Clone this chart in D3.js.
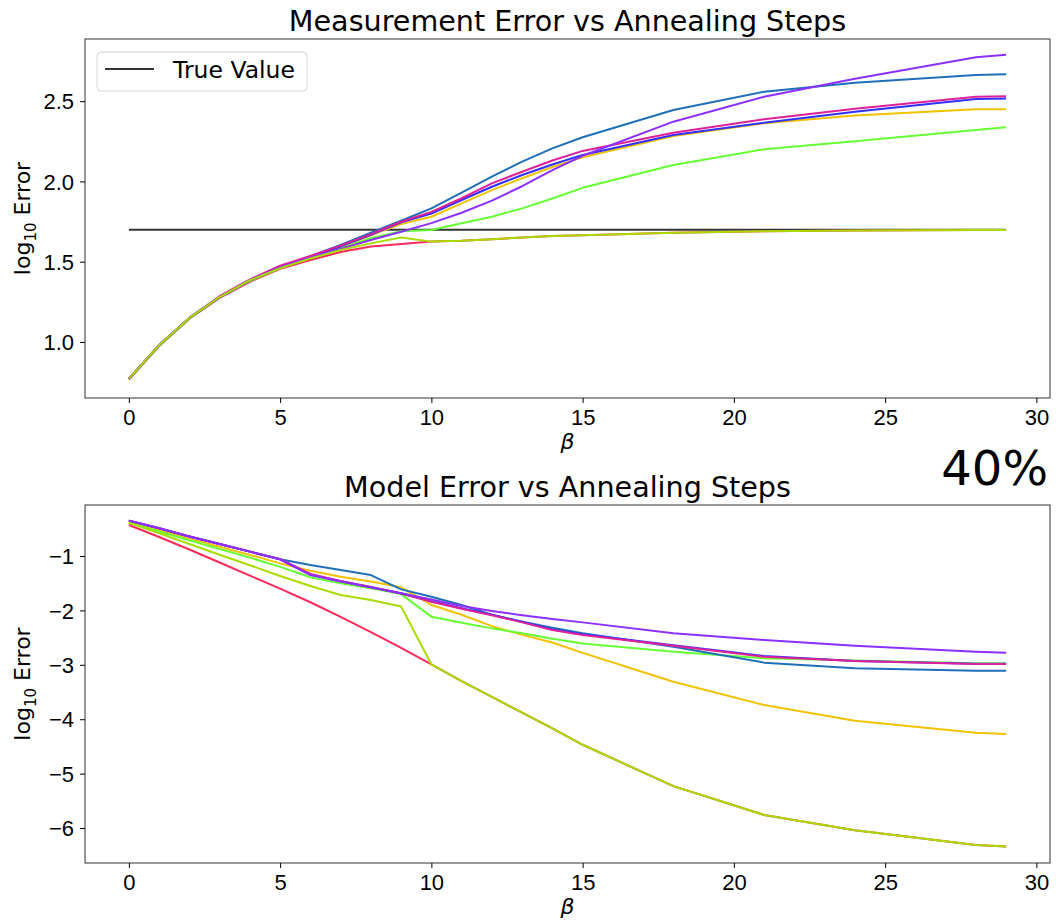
<!DOCTYPE html>
<html>
<head>
<meta charset="utf-8">
<script src="https://cdn.jsdelivr.net/npm/d3@7"></script>
<style>
  body { margin: 0; background: #fff; }
  svg { display: block; font-family: "DejaVu Sans", sans-serif; }
  .tick text { font-size: 22px; fill: #000; }
</style>
</head>
<body>
<svg id="chart" width="1058" height="924"></svg>
<script>
// annealing steps (beta)
const betas = [0,1,2,3,4,5,6,7,8,9,10,11,12,13,14,15,18,21,24,28,29];
const trueValue = 1.699;

// log10 measurement error, one array per run
const measSteel   = [0.77,0.98,1.15,1.28,1.385,1.465,1.535,1.605,1.68,1.755,1.832,1.93,2.03,2.123,2.206,2.275,2.445,2.559,2.615,2.663,2.667];
const measPurple  = [0.77,0.98,1.15,1.28,1.385,1.465,1.525,1.58,1.635,1.687,1.74,1.805,1.88,1.97,2.07,2.16,2.372,2.527,2.64,2.773,2.789];
const measMagenta = [0.77,0.98,1.15,1.285,1.39,1.475,1.535,1.60,1.672,1.749,1.81,1.895,1.988,2.06,2.13,2.19,2.303,2.387,2.453,2.527,2.531];
const measBlue    = [0.77,0.98,1.15,1.28,1.385,1.47,1.53,1.595,1.668,1.745,1.80,1.884,1.967,2.04,2.105,2.165,2.289,2.366,2.434,2.513,2.517];
const measGold    = [0.77,0.98,1.15,1.28,1.385,1.465,1.53,1.59,1.665,1.735,1.78,1.863,1.946,2.02,2.09,2.15,2.283,2.362,2.41,2.449,2.449];
const measGreen   = [0.77,0.975,1.145,1.28,1.38,1.46,1.525,1.583,1.646,1.69,1.697,1.74,1.78,1.832,1.894,1.96,2.102,2.20,2.25,2.32,2.337];
const measLime    = [0.77,0.98,1.15,1.28,1.385,1.46,1.52,1.573,1.614,1.65,1.625,1.63,1.64,1.65,1.66,1.665,1.68,1.69,1.695,1.697,1.697];
const measRed     = [0.766,0.975,1.145,1.275,1.375,1.455,1.51,1.56,1.594,1.61,1.625,1.63,1.64,1.65,1.66,1.665,1.68,1.69,1.695,1.697,1.697];

// log10 model error
const modSteel   = [-0.35,-0.49,-0.64,-0.78,-0.92,-1.06,-1.165,-1.257,-1.35,-1.613,-1.748,-1.90,-2.08,-2.21,-2.32,-2.42,-2.67,-2.96,-3.065,-3.108,-3.11];
const modPurple  = [-0.35,-0.49,-0.64,-0.78,-0.92,-1.06,-1.35,-1.47,-1.576,-1.686,-1.80,-1.92,-2.01,-2.09,-2.16,-2.22,-2.42,-2.545,-2.65,-2.76,-2.78];
const modMagenta = [-0.35,-0.49,-0.64,-0.78,-0.92,-1.06,-1.33,-1.46,-1.57,-1.686,-1.84,-1.97,-2.09,-2.22,-2.36,-2.45,-2.65,-2.85,-2.93,-2.985,-2.985];
const modBlue    = [-0.35,-0.49,-0.64,-0.78,-0.92,-1.06,-1.34,-1.465,-1.575,-1.69,-1.83,-1.96,-2.08,-2.21,-2.35,-2.44,-2.64,-2.84,-2.93,-2.98,-2.98];
const modGold    = [-0.37,-0.52,-0.68,-0.83,-0.98,-1.135,-1.27,-1.38,-1.47,-1.576,-1.90,-2.08,-2.29,-2.45,-2.59,-2.78,-3.31,-3.74,-4.03,-4.25,-4.27];
const modGreen   = [-0.39,-0.55,-0.71,-0.87,-1.03,-1.2,-1.39,-1.50,-1.595,-1.70,-2.115,-2.226,-2.33,-2.42,-2.52,-2.61,-2.76,-2.88,-2.92,-2.97,-2.97];
const modLime    = [-0.388,-0.583,-0.78,-0.976,-1.17,-1.368,-1.55,-1.717,-1.81,-1.93,-2.99,-3.30,-3.59,-3.88,-4.17,-4.47,-5.23,-5.76,-6.04,-6.31,-6.34];
const modRed     = [-0.43,-0.65,-0.88,-1.12,-1.36,-1.6,-1.85,-2.12,-2.4,-2.69,-2.99,-3.30,-3.59,-3.88,-4.17,-4.47,-5.23,-5.76,-6.04,-6.31,-6.34];

const runColors = ["#ff2a5c", "#f2c200", "#66ff33", "#1f6fb8", "#3030ff", "#e0209a", "#8c30ff", "#a8dc00"];
const measRuns = [measRed, measGold, measGreen, measSteel, measBlue, measMagenta, measPurple, measLime];
const modRuns  = [modRed, modGold, modGreen, modSteel, modBlue, modMagenta, modPurple, modLime];

const xTicks = [0,5,10,15,20,25,30];
const measTicks = [1.0,1.5,2.0,2.5];
const modTicks = [-6,-5,-4,-3,-2,-1];

const svg = d3.select("#chart");
const left = 85, right = 1050;

const x = d3.scaleLinear().domain([-1.45, 30.45]).range([left, right]);

function drawPanel(opts) {
  const y = d3.scaleLinear().domain(opts.yDomain).range([opts.bottom, opts.top]);
  const g = svg.append("g");

  const line = d3.line().x((d, i) => x(betas[i])).y(d => y(d));

  if (opts.ref !== undefined) {
    g.append("line")
      .attr("x1", x(0)).attr("x2", x(29))
      .attr("y1", y(opts.ref)).attr("y2", y(opts.ref))
      .attr("stroke", "#333").attr("stroke-width", 2);
  }

  opts.runs.forEach((run, i) => {
    g.append("path")
      .datum(run)
      .attr("d", line)
      .attr("fill", "none")
      .attr("stroke", runColors[i])
      .attr("stroke-width", 2)
      .attr("stroke-linejoin", "round");
  });

  // frame
  g.append("rect")
    .attr("x", left).attr("y", opts.top)
    .attr("width", right - left).attr("height", opts.bottom - opts.top)
    .attr("fill", "none").attr("stroke", "#333").attr("stroke-width", 1);

  const xAxis = g.append("g")
    .attr("transform", `translate(0,${opts.bottom})`)
    .call(d3.axisBottom(x).tickValues(xTicks).tickSize(5).tickPadding(6));
  xAxis.select(".domain").remove();

  const yAxis = g.append("g")
    .attr("transform", `translate(${left},0)`)
    .call(d3.axisLeft(y).tickValues(opts.yTicks).tickSize(5).tickPadding(6).tickFormat(opts.fmt));
  yAxis.select(".domain").remove();
  yAxis.selectAll(".tick text").attr("dy", "0.35em");

  g.append("text")
    .attr("x", (left + right) / 2).attr("y", opts.top - 8)
    .attr("text-anchor", "middle")
    .attr("font-size", 28.6)
    .text(opts.title);

  g.append("text")
    .attr("x", (left + right) / 2).attr("y", opts.bottom + 51)
    .attr("text-anchor", "middle")
    .attr("font-size", 22)
    .attr("font-style", "italic")
    .text("β");

  const yl = g.append("text")
    .attr("transform", `translate(30,${(opts.top + opts.bottom) / 2}) rotate(-90)`)
    .attr("text-anchor", "middle")
    .attr("font-size", 22);
  yl.append("tspan").text("log");
  yl.append("tspan").attr("font-size", 15).attr("dy", 6).text("10");
  yl.append("tspan").attr("dy", -6).text(" Error");

  return g;
}

drawPanel({
  top: 39, bottom: 398, yDomain: [0.651, 2.887], yTicks: measTicks,
  fmt: d3.format(".1f"), runs: measRuns, ref: trueValue,
  title: "Measurement Error vs Annealing Steps"
});

drawPanel({
  top: 505, bottom: 863, yDomain: [-6.643, -0.0625], yTicks: modTicks,
  fmt: d => "\u2212" + Math.abs(d), runs: modRuns,
  title: "Model Error vs Annealing Steps"
});

// legend
const lg = svg.append("g");
lg.append("rect")
  .attr("x", 97).attr("y", 52).attr("width", 210).attr("height", 39)
  .attr("rx", 4).attr("fill", "#fff").attr("fill-opacity", 0.8)
  .attr("stroke", "#d5d5d5");
lg.append("line")
  .attr("x1", 105).attr("x2", 154).attr("y1", 69).attr("y2", 69)
  .attr("stroke", "#333").attr("stroke-width", 2);
lg.append("text")
  .attr("x", 173).attr("y", 78).attr("font-size", 23.5).text("True Value");

svg.append("text")
  .attr("x", 1048).attr("y", 485)
  .attr("text-anchor", "end")
  .attr("font-size", 48)
  .text("40%");
</script>
</body>
</html>
